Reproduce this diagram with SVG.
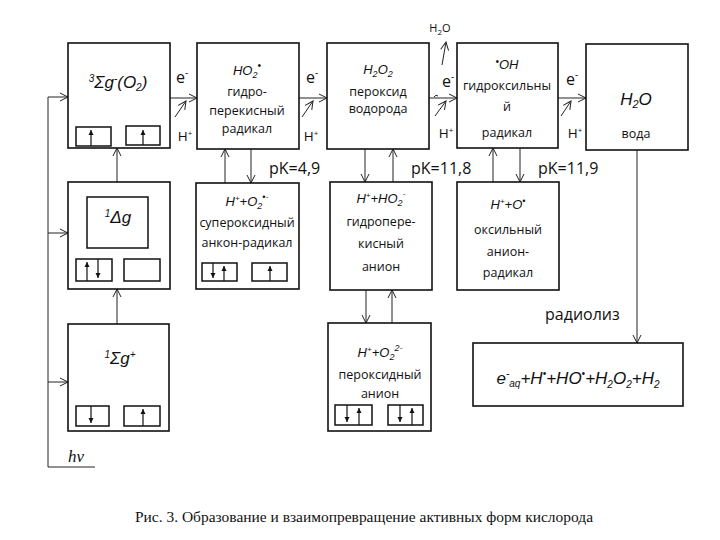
<svg xmlns="http://www.w3.org/2000/svg" width="720" height="540" viewBox="0 0 720 540">
<style>
.box{fill:#fff;stroke:#111;stroke-width:1.6}
.sb{fill:#fff;stroke:#111;stroke-width:1.5}
.ln{fill:none;stroke:#222;stroke-width:1}
.sp{fill:none;stroke:#111;stroke-width:1.2}
.t{font-family:"Open Sans","Liberation Sans",sans-serif;font-size:12.5px;fill:#111;text-anchor:middle}
.f{font-family:"Liberation Sans",sans-serif;font-style:italic;font-size:13px;fill:#111;text-anchor:middle}
.big{font-family:"Liberation Sans",sans-serif;font-style:italic;font-size:17px;fill:#111;text-anchor:middle}
.e{font-family:"Open Sans","Liberation Sans",sans-serif;font-size:16px;fill:#111;text-anchor:middle}
.pk{font-family:"Open Sans","Liberation Sans",sans-serif;font-size:16px;fill:#111}
.cap{font-family:"Liberation Serif",serif;font-size:15px;fill:#111}
</style>
<defs>
<marker id="a" markerWidth="12" markerHeight="12" refX="10" refY="6" orient="auto" markerUnits="userSpaceOnUse"><path d="M2,2 L10,6 L2,10" fill="none" stroke="#222" stroke-width="1"/></marker>
<marker id="s" markerWidth="6" markerHeight="6" refX="5" refY="3" orient="auto" markerUnits="userSpaceOnUse"><path d="M0,0.5 L5,3 L0,5.5 Z" fill="#111"/></marker>
</defs>

<g id="connectors">
  <line class="ln" x1="170" y1="98" x2="197" y2="98" marker-end="url(#a)"/>
  <line class="ln" x1="299" y1="98" x2="327" y2="98" marker-end="url(#a)"/>
  <line class="ln" x1="429" y1="98" x2="457" y2="98" marker-end="url(#a)"/>
  <line class="ln" x1="558" y1="98" x2="586" y2="98" marker-end="url(#a)"/>
  <line class="ln" x1="175" y1="117" x2="186" y2="101" marker-end="url(#a)"/>
  <line class="ln" x1="302" y1="117" x2="313" y2="101" marker-end="url(#a)"/>
  <line class="ln" x1="435" y1="116" x2="446" y2="101" marker-end="url(#a)"/>
  <line class="ln" x1="561" y1="116" x2="571" y2="101" marker-end="url(#a)"/>
  <line class="ln" x1="442" y1="65" x2="446" y2="42" marker-end="url(#a)"/>
  <path class="ln" d="M434,97 Q436,94 438,96"/>
  <polyline class="ln" points="95,467 48,467 48,97"/>
  <line class="ln" x1="48" y1="97" x2="68" y2="97" marker-end="url(#a)"/>
  <line class="ln" x1="48" y1="233" x2="68" y2="233" marker-end="url(#a)"/>
  <line class="ln" x1="48" y1="382" x2="68" y2="382" marker-end="url(#a)"/>
  <line class="ln" x1="117" y1="182" x2="117" y2="148" marker-end="url(#a)"/>
  <line class="ln" x1="117" y1="324" x2="117" y2="289" marker-end="url(#a)"/>
  <line class="ln" x1="225" y1="183" x2="225" y2="149" marker-end="url(#a)"/>
  <line class="ln" x1="251" y1="149" x2="251" y2="183" marker-end="url(#a)"/>
  <line class="ln" x1="365" y1="149" x2="365" y2="182" marker-end="url(#a)"/>
  <line class="ln" x1="393" y1="182" x2="393" y2="149" marker-end="url(#a)"/>
  <line class="ln" x1="493" y1="182" x2="493" y2="148" marker-end="url(#a)"/>
  <line class="ln" x1="520" y1="148" x2="520" y2="182" marker-end="url(#a)"/>
  <line class="ln" x1="366" y1="290" x2="366" y2="323" marker-end="url(#a)"/>
  <line class="ln" x1="392" y1="323" x2="392" y2="290" marker-end="url(#a)"/>
  <line class="ln" x1="637" y1="150" x2="637" y2="343" marker-end="url(#a)"/>
  <text class="e" x="182" y="83">e<tspan dy="-7" font-size="10">-</tspan></text>
  <text class="e" x="312" y="83">e<tspan dy="-7" font-size="10">-</tspan></text>
  <text class="e" x="448" y="87">e<tspan dy="-7" font-size="10">-</tspan></text>
  <text class="e" x="572" y="85">e<tspan dy="-7" font-size="10">-</tspan></text>
  <text class="t" x="185" y="141" style="font-size:13.5px">H<tspan dy="-5" font-size="8">+</tspan></text>
  <text class="t" x="311" y="141" style="font-size:13.5px">H<tspan dy="-5" font-size="8">+</tspan></text>
  <text class="t" x="446" y="138" style="font-size:13.5px">H<tspan dy="-5" font-size="8">+</tspan></text>
  <text class="t" x="575" y="138" style="font-size:13.5px">H<tspan dy="-5" font-size="8">+</tspan></text>
  <text class="t" x="440" y="32" style="font-size:11px">H<tspan dy="3" font-size="8">2</tspan><tspan dy="-3">O</tspan></text>
  <text class="pk" x="269" y="174">pK=4,9</text>
  <text class="pk" x="411" y="174">pK=11,8</text>
  <text class="pk" x="538" y="174">pK=11,9</text>
  <text class="pk" x="545" y="320">радиолиз</text>
  <text x="68" y="462" font-family="Liberation Serif,serif" font-style="italic" font-size="17" fill="#111">hν</text>
</g>

<g id="n-o2">
  <rect class="box" x="68" y="43" width="102" height="105"/>
  <text class="big" x="118" y="88"><tspan font-size="10" dy="-6">3</tspan><tspan dy="6">Σg</tspan><tspan font-size="10" dy="-6">-</tspan><tspan dy="6">(O</tspan><tspan font-size="10" dy="3">2</tspan><tspan dy="-3">)</tspan></text>
  <rect class="sb" x="76" y="127" width="35" height="19"/>
  <rect class="sb" x="126" y="126" width="34" height="19"/>
  <line class="sp" x1="91" y1="146" x2="91" y2="130" marker-end="url(#s)"/>
  <line class="sp" x1="143" y1="145" x2="143" y2="130" marker-end="url(#s)"/>
</g>

<g id="n-ho2">
  <rect class="box" x="197" y="43" width="102" height="106"/>
  <text class="f" x="247" y="75">HO<tspan font-size="9" dy="3">2</tspan><tspan font-size="10" dy="-9">•</tspan></text>
  <text class="t" x="247" y="96">гидро-</text>
  <text class="t" x="247" y="115">перекисный</text>
  <text class="t" x="247" y="133">радикал</text>
</g>

<g id="n-h2o2">
  <rect class="box" x="327" y="43" width="102" height="106"/>
  <text class="f" x="378" y="74">H<tspan font-size="9" dy="3">2</tspan><tspan dy="-3">O</tspan><tspan font-size="9" dy="3">2</tspan></text>
  <text class="t" x="378" y="96">пероксид</text>
  <text class="t" x="378" y="113">водорода</text>
</g>

<g id="n-oh">
  <rect class="box" x="457" y="43" width="101" height="105"/>
  <text class="f" x="507" y="69"><tspan font-size="10" dy="-4">•</tspan><tspan dy="4">OH</tspan></text>
  <text class="t" x="507" y="90">гидроксильны</text>
  <text class="t" x="507" y="111">й</text>
  <text class="t" x="507" y="137">радикал</text>
</g>

<g id="n-h2o">
  <rect class="box" x="586" y="44" width="102" height="106"/>
  <text class="big" x="636" y="105">H<tspan font-size="11" dy="3">2</tspan><tspan dy="-3">O</tspan></text>
  <text class="t" x="636" y="138">вода</text>
</g>

<g id="n-delta">
  <rect class="box" x="68" y="182" width="102" height="107"/>
  <rect class="sb" x="87" y="197" width="61" height="51"/>
  <text class="big" x="118" y="223"><tspan font-size="10" dy="-6">1</tspan><tspan dy="6">Δg</tspan></text>
  <rect class="sb" x="76" y="259" width="36" height="22"/>
  <rect class="sb" x="124" y="259" width="36" height="22"/>
  <line class="sp" x1="87" y1="281" x2="87" y2="262" marker-end="url(#s)"/>
  <line class="sp" x1="98" y1="259" x2="98" y2="278" marker-end="url(#s)"/>
</g>

<g id="n-superoxide">
  <rect class="box" x="196" y="183" width="103" height="106"/>
  <text class="f" x="247" y="206">H<tspan font-size="8" dy="-5">+</tspan><tspan dy="5">+O</tspan><tspan font-size="9" dy="3">2</tspan><tspan font-size="9" dy="-9">•-</tspan></text>
  <text class="t" x="247" y="227">супероксидный</text>
  <text class="t" x="247" y="247">анкон-радикал</text>
  <rect class="sb" x="202" y="263" width="35" height="18"/>
  <rect class="sb" x="252" y="263" width="35" height="18"/>
  <line class="sp" x1="213" y1="263" x2="213" y2="278" marker-end="url(#s)"/>
  <line class="sp" x1="224" y1="281" x2="224" y2="266" marker-end="url(#s)"/>
  <line class="sp" x1="270" y1="281" x2="270" y2="266" marker-end="url(#s)"/>
</g>

<g id="n-hydroperoxide">
  <rect class="box" x="330" y="182" width="102" height="108"/>
  <text class="f" x="381" y="203">H<tspan font-size="8" dy="-5">+</tspan><tspan dy="5">+HO</tspan><tspan font-size="9" dy="3">2</tspan><tspan font-size="9" dy="-9">-</tspan></text>
  <text class="t" x="381" y="226">гидропере-</text>
  <text class="t" x="381" y="248">кисный</text>
  <text class="t" x="381" y="271">анион</text>
</g>

<g id="n-oxyl">
  <rect class="box" x="457" y="182" width="102" height="108"/>
  <text class="f" x="508" y="209">H<tspan font-size="8" dy="-5">+</tspan><tspan dy="5">+O</tspan><tspan font-size="9" dy="-5">•</tspan></text>
  <text class="t" x="508" y="234">оксильный</text>
  <text class="t" x="508" y="256">анион-</text>
  <text class="t" x="508" y="277">радикал</text>
</g>

<g id="n-sigma">
  <rect class="box" x="68" y="324" width="101" height="107"/>
  <text class="big" x="120" y="364"><tspan font-size="10" dy="-6">1</tspan><tspan dy="6">Σg</tspan><tspan font-size="10" dy="-6">+</tspan></text>
  <rect class="sb" x="76" y="406" width="33" height="20"/>
  <rect class="sb" x="124" y="406" width="36" height="20"/>
  <line class="sp" x1="91" y1="406" x2="91" y2="423" marker-end="url(#s)"/>
  <line class="sp" x1="143" y1="426" x2="143" y2="409" marker-end="url(#s)"/>
</g>

<g id="n-peroxide">
  <rect class="box" x="328" y="323" width="103" height="108"/>
  <text class="f" x="380" y="357">H<tspan font-size="8" dy="-5">+</tspan><tspan dy="5">+O</tspan><tspan font-size="9" dy="3">2</tspan><tspan font-size="9" dy="-9">2-</tspan></text>
  <text class="t" x="380" y="379">пероксидный</text>
  <text class="t" x="380" y="398">анион</text>
  <rect class="sb" x="335" y="405" width="37" height="20"/>
  <rect class="sb" x="388" y="405" width="35" height="20"/>
  <line class="sp" x1="347" y1="405" x2="347" y2="422" marker-end="url(#s)"/>
  <line class="sp" x1="359" y1="425" x2="359" y2="408" marker-end="url(#s)"/>
  <line class="sp" x1="400" y1="405" x2="400" y2="422" marker-end="url(#s)"/>
  <line class="sp" x1="412" y1="425" x2="412" y2="408" marker-end="url(#s)"/>
</g>

<g id="n-radiolysis">
  <rect class="box" x="473" y="343" width="210" height="63"/>
  <text class="f" x="578" y="384" style="font-size:17px">e<tspan font-size="10" dy="-7">-</tspan><tspan font-size="10" dy="10">aq</tspan><tspan dy="-3">+H</tspan><tspan font-size="10" dy="-7">•</tspan><tspan dy="7">+HO</tspan><tspan font-size="10" dy="-7">•</tspan><tspan dy="7">+H</tspan><tspan font-size="10" dy="4">2</tspan><tspan dy="-4">O</tspan><tspan font-size="10" dy="4">2</tspan><tspan dy="-4">+H</tspan><tspan font-size="10" dy="4">2</tspan></text>
</g>

<text class="cap" x="135" y="522" textLength="458" lengthAdjust="spacingAndGlyphs">Рис. 3. Образование и взаимопревращение активных форм кислорода</text>
</svg>
